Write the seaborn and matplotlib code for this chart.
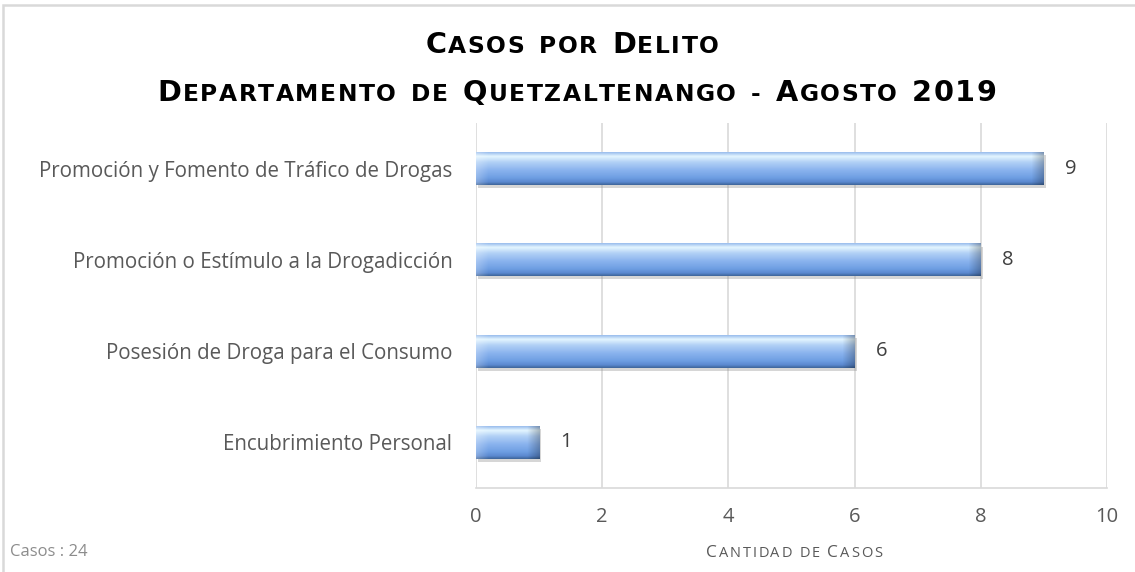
import matplotlib

matplotlib.use("Agg")

import matplotlib.pyplot as plt
import matplotlib.patches as mpatches
import matplotlib.transforms as mtransforms
import numpy as np
import seaborn as sns
from matplotlib.colors import LinearSegmentedColormap

categories = [
    "Promoción y Fomento de Tráfico de Drogas",
    "Promoción o Estímulo a la Drogadicción",
    "Posesión de Droga para el Consumo",
    "Encubrimiento Personal",
]
casos = [9, 8, 6, 1]
x_ticks = [0, 2, 4, 6, 8, 10]
title_lines = ["Casos por Delito", "Departamento de Quetzaltenango - Agosto 2019"]
x_label = "Cantidad de Casos"
note = "Casos : 24"

LABEL_FONT = ["Open Sans", "DejaVu Sans"]
TITLE_FONT = ["DejaVu Sans"]

bar_cmap = LinearSegmentedColormap.from_list(
    "bevel",
    [(0.0, "#9cbfee"), (0.12, "#e4f6ff"), (0.3, "#b2d1f6"), (0.55, "#8ab3ee"),
     (0.78, "#6f9fe3"), (0.92, "#5a88cf"), (1.0, "#3f679d")],
)


def small_caps(fig, ax, cx, y, text, big, small, color, family, weight, track, word_gap):
    # fake small caps drawn letter by letter so the spacing can be opened up
    artists = []
    prev = None
    gap = 0
    for ch in text:
        if ch == " ":
            gap += word_gap
            continue
        size = big if (ch.isupper() or ch.isdigit()) else small
        kw = dict(fontsize=size, color=color, family=family, weight=weight,
                  ha="left", va="baseline")
        if prev is None:
            t = fig.text(0, y, ch.upper(), **kw)
        else:
            t = ax.annotate(ch.upper(), xy=(1, y), xycoords=(prev, "figure fraction"),
                            xytext=(track + gap, 0), textcoords="offset points",
                            annotation_clip=False, **kw)
        gap = 0
        artists.append(t)
        prev = t
    fig.canvas.draw()
    r = fig.canvas.get_renderer()
    x0 = artists[0].get_window_extent(r).x0
    x1 = artists[-1].get_window_extent(r).x1
    width = (x1 - x0) / fig.bbox.width
    artists[0].set_x(cx - width / 2)
    return artists


sns.set_theme(style="white")
plt.rcParams["font.family"] = LABEL_FONT

fig = plt.figure(figsize=(11.35, 5.72), dpi=100)
ax = fig.add_axes([476 / 1135, 1 - 488 / 572, 631 / 1135, 365 / 572])

sns.barplot(x=casos, y=categories, orient="h", color="#7aa7e6", width=0.36,
            edgecolor="none", ax=ax)
ax.set_xlim(0, 10)
ax.set_ylim(3.5, -0.5)

# bevel-like gradient and soft shadow for every bar
shift = mtransforms.ScaledTranslation(1.5 / 72, -2.2 / 72, fig.dpi_scale_trans)
for patch in list(ax.patches):
    x, yb = patch.get_x(), patch.get_y()
    w, h = patch.get_width(), patch.get_height()
    shadow = mpatches.Rectangle((x, yb), w, h, transform=ax.transData + shift,
                                facecolor="#8c8c8c", edgecolor="none", alpha=0.35,
                                zorder=patch.get_zorder() - 0.1)
    ax.add_artist(shadow)
    cols = max(int(w * 63), 2)
    grad = bar_cmap(np.linspace(0, 1, 48))[:, None, :3].repeat(cols, axis=1)
    bev = 12
    ramp = np.clip(1 - np.arange(cols) / bev, 0, 1)
    grad = grad * (1 - 0.25 * ramp[::-1, None])  # darker right end
    grad = grad + (1 - grad) * 0.25 * ramp[:, None]  # lighter left end
    im = ax.imshow(grad, extent=(x, x + w, yb + h, yb), origin="upper",
                   aspect="auto", interpolation="bilinear", zorder=patch.get_zorder() + 0.1)
    im.set_clip_path(patch)

ax.set_xlim(0, 10)
ax.set_ylim(3.5, -0.5)
ax.set_xticks(x_ticks)
ax.grid(axis="x", color="#d9d9d9", linewidth=1.2)
ax.set_axisbelow(True)
for side in ["top", "right", "left"]:
    ax.spines[side].set_visible(False)
ax.spines["bottom"].set_color("#d9d9d9")
ax.spines["bottom"].set_linewidth(1.2)
ax.tick_params(axis="y", length=0, pad=17, labelsize=14.8, labelcolor="#595959")
ax.tick_params(axis="x", length=0, pad=14, labelsize=14.5, labelcolor="#595959")
ax.set_xlabel("")
ax.set_ylabel("")

ax.bar_label(ax.containers[0], padding=15, fontsize=14.5, color="#404040")

fig.text(10 / 1135, 1 - 556 / 572, note, fontsize=12, color="#8c8c8c")

frame = mpatches.Rectangle((0.03, -0.2), 12, 5.67 + 0.2, transform=fig.dpi_scale_trans,
                           fill=False, edgecolor="#d9d9d9", linewidth=1.8)
fig.patches.append(frame)

small_caps(fig, ax, 572 / 1135, 1 - 53 / 572, title_lines[0], 20.7, 16.8, "black",
           TITLE_FONT, "bold", 1.1, 9.7)
small_caps(fig, ax, 577 / 1135, 1 - 101 / 572, title_lines[1], 20.7, 16.8, "black",
           TITLE_FONT, "bold", 1.1, 9.7)
small_caps(fig, ax, 794 / 1135, 1 - 557 / 572, x_label, 12.5, 10.5, "#595959",
           LABEL_FONT, "normal", 1.3, 4)

fig.savefig("out.png", dpi=100)
